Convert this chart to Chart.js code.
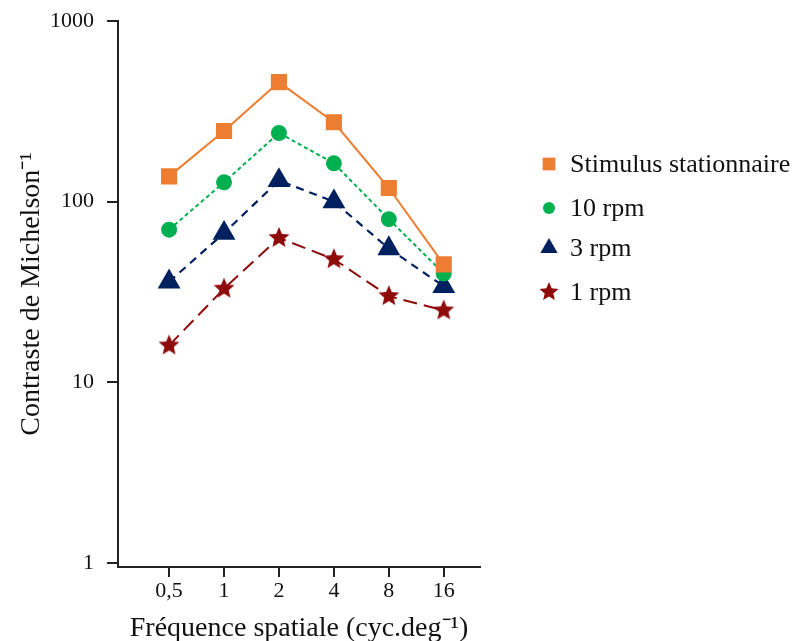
<!DOCTYPE html>
<html>
<head>
<meta charset="utf-8">
<script src="https://cdn.jsdelivr.net/npm/chart.js@4.4.1/dist/chart.umd.min.js"></script>
<style>
  html, body { margin: 0; padding: 0; background: #fff; }
  #wrap { width: 794px; height: 641px; position: relative; }
</style>
</head>
<body>
<div id="wrap"><canvas id="chart" width="794" height="641"></canvas></div>
<script>
const freqLabels = ["0,5", "1", "2", "4", "8", "16"];
const yTickValues = [1, 10, 100, 1000];
const seriesNames = ["Stimulus stationnaire", "10 rpm", "3 rpm", "1 rpm"];
const stationnaire = [138, 246, 459, 275, 119, 45];
const rpm10 = [70, 128, 240, 163, 80, 40];
const rpm3 = [36, 67, 131, 100, 55, 34];
const rpm1 = [16, 33, 63, 48, 30, 25];

const SERIF = "'Liberation Serif', 'Times New Roman', serif";

// filled star, Chart.js only has the open one
function makeStar(color, outer) {
  const size = Math.ceil(outer * 2 + 2);
  const c = document.createElement("canvas");
  c.width = size;
  c.height = size;
  const g = c.getContext("2d");
  const cx = size / 2, cy = size / 2, inner = outer * 0.45;
  g.beginPath();
  for (let i = 0; i < 10; i++) {
    const r = i % 2 === 0 ? outer : inner;
    const a = -Math.PI / 2 + i * Math.PI / 5;
    g.lineTo(cx + r * Math.cos(a), cy + r * Math.sin(a));
  }
  g.closePath();
  g.fillStyle = color;
  g.fill();
  return c;
}

const starImg = makeStar("#8E0B0B", 11);
const starSmall = makeStar("#8E0B0B", 10);

function toPoints(values) {
  return values.map((v, i) => ({ x: i, y: v }));
}

const datasets = [
  {
    label: seriesNames[0],
    data: toPoints(stationnaire),
    borderColor: "#ED7D31",
    backgroundColor: "#ED7D31",
    borderWidth: 2,
    pointStyle: "rect",
    pointRadius: 10,
  },
  {
    label: seriesNames[1],
    data: toPoints(rpm10),
    borderColor: "#00B050",
    backgroundColor: "#00B050",
    borderWidth: 2,
    borderDash: [4, 3],
    pointStyle: "circle",
    pointRadius: 7,
  },
  {
    label: seriesNames[2],
    data: toPoints(rpm3),
    borderColor: "#002060",
    backgroundColor: "#002060",
    borderWidth: 2.2,
    borderDash: [8, 6],
    pointStyle: "triangle",
    pointRadius: 11,
  },
  {
    label: seriesNames[3],
    data: toPoints(rpm1),
    borderColor: "#8E0B0B",
    backgroundColor: "#8E0B0B",
    borderWidth: 2,
    borderDash: [14, 7],
    pointStyle: starImg,
    pointRadius: 11,
  },
];

// legend placed by hand, next to the plot
const sideLegend = {
  id: "sideLegend",
  afterDraw(chart) {
    const ctx = chart.ctx;
    const rows = [164, 208, 248, 292];
    ctx.save();
    chart.data.datasets.forEach((ds, i) => {
      const y = rows[i];
      ctx.fillStyle = ds.backgroundColor;
      ctx.strokeStyle = ds.borderColor;
      ctx.lineWidth = 1;
      ctx.setLineDash([]);
      let style = ds.pointStyle;
      let r = 9;
      if (style === "circle") r = 6;
      if (style === "triangle") r = 10;
      if (style === starImg) style = starSmall;
      Chart.helpers.drawPoint(ctx, { pointStyle: style, rotation: 0, radius: r }, 549, y);
      ctx.fillStyle = "#111";
      ctx.font = "26px " + SERIF;
      ctx.textBaseline = "middle";
      ctx.textAlign = "left";
      ctx.fillText(ds.label, 570, y + 1);
    });
    ctx.restore();
  },
};

new Chart(document.getElementById("chart"), {
  type: "line",
  data: { datasets },
  plugins: [sideLegend],
  options: {
    responsive: false,
    animation: false,
    layout: { padding: { left: 0, top: 21, right: 314, bottom: 0 } },
    plugins: {
      legend: { display: false },
      tooltip: { enabled: false },
    },
    scales: {
      x: {
        type: "linear",
        min: -0.93,
        max: 5.66,
        afterBuildTicks: (s) => { s.ticks = freqLabels.map((_, i) => ({ value: i })); },
        afterFit: (s) => { s.height = 74; s.paddingLeft = 0; s.paddingRight = 0; },
        ticks: {
          color: "#111",
          font: { family: SERIF, size: 22 },
          padding: 1,
          callback: (v) => freqLabels[v],
        },
        grid: { drawOnChartArea: false, color: "#222", tickLength: 10, lineWidth: 2 },
        border: { color: "#222", width: 2 },
        title: {
          display: true,
          text: "Fréquence spatiale (cyc.deg⁻¹)",
          color: "#111",
          font: { family: SERIF, size: 28 },
          padding: { top: 0, bottom: -4 },
        },
      },
      y: {
        type: "logarithmic",
        min: 0.95,
        max: 1000,
        afterBuildTicks: (s) => { s.ticks = yTickValues.map((v) => ({ value: v })); },
        afterFit: (s) => { s.width = 118; s.paddingTop = 0; s.paddingBottom = 0; },
        ticks: {
          color: "#111",
          font: { family: SERIF, size: 22 },
          padding: 13,
          callback: (v) => String(v),
        },
        grid: { drawOnChartArea: false, color: "#222", tickLength: 11, lineWidth: 2 },
        border: { color: "#222", width: 2 },
        title: {
          display: true,
          text: "Contraste de Michelson⁻¹",
          color: "#111",
          font: { family: SERIF, size: 28 },
          padding: { top: 15, bottom: 0 },
        },
      },
    },
  },
});
</script>
</body>
</html>
